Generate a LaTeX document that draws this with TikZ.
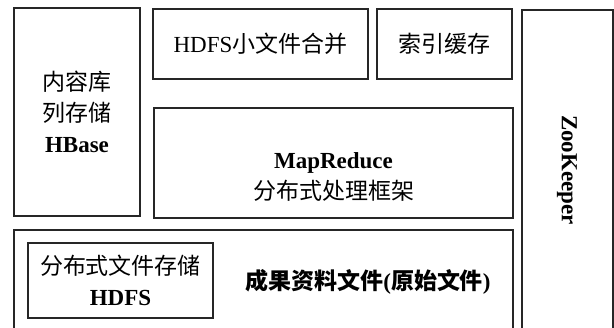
\documentclass[tikz,border=0pt]{standalone}
\usepackage{fontspec}
\setmainfont{Liberation Serif}
\newfontfamily\cjk{Noto Sans CJK SC}
\newcommand{\zh}[1]{{\cjk #1}}
\begin{document}
\begin{tikzpicture}[x=1pt,y=-1pt,
  boxst/.style={draw=black!85,line width=1.3pt,rectangle,inner sep=0pt},
  txt/.style={font=\fontsize{23}{31}\selectfont,align=center,inner sep=0pt}]
\useasboundingbox (0,0) rectangle (614,328);
\clip (0,0) rectangle (614,328);
\node[boxst,txt,minimum width=126pt,minimum height=208pt] (hbase) at (77,112)
  {\zh{内容库}\\ \zh{列存储}\\ \textbf{HBase}};
\node[boxst,txt,minimum width=215pt,minimum height=70pt] (merge) at (260.5,44)
  {HDFS\zh{小文件合并}};
\node[boxst,txt,minimum width=135pt,minimum height=70pt] (index) at (444.5,44)
  {\zh{索引缓存}};
\node[boxst,minimum width=91pt,minimum height=325pt] (zk) at (567.5,172.5) {};
\node[txt,rotate=-90,font=\fontsize{23}{28}\selectfont\bfseries] (zkt) at (567,170) {ZooKeeper};
\node[boxst,minimum width=359pt,minimum height=110pt] (mr) at (333.5,163) {};
\node[txt] (mrt) at (333.5,177) {\textbf{MapReduce}\\ \zh{分布式处理框架}};
\node[boxst,minimum width=499pt,minimum height=105pt] (store) at (263.5,282.5) {};
\node[boxst,txt,line width=1.6pt,minimum width=185pt,minimum height=75pt] (hdfs) at (120.5,280.5)
  {\zh{分布式文件存储}\\ \textbf{HDFS}};
\node[txt,font=\fontsize{23}{31}\selectfont\bfseries] (raw) at (368,282)
  {{\cjk\bfseries 成果资料文件}(\zh{\bfseries 原始文件})};
\end{tikzpicture}
\end{document}
